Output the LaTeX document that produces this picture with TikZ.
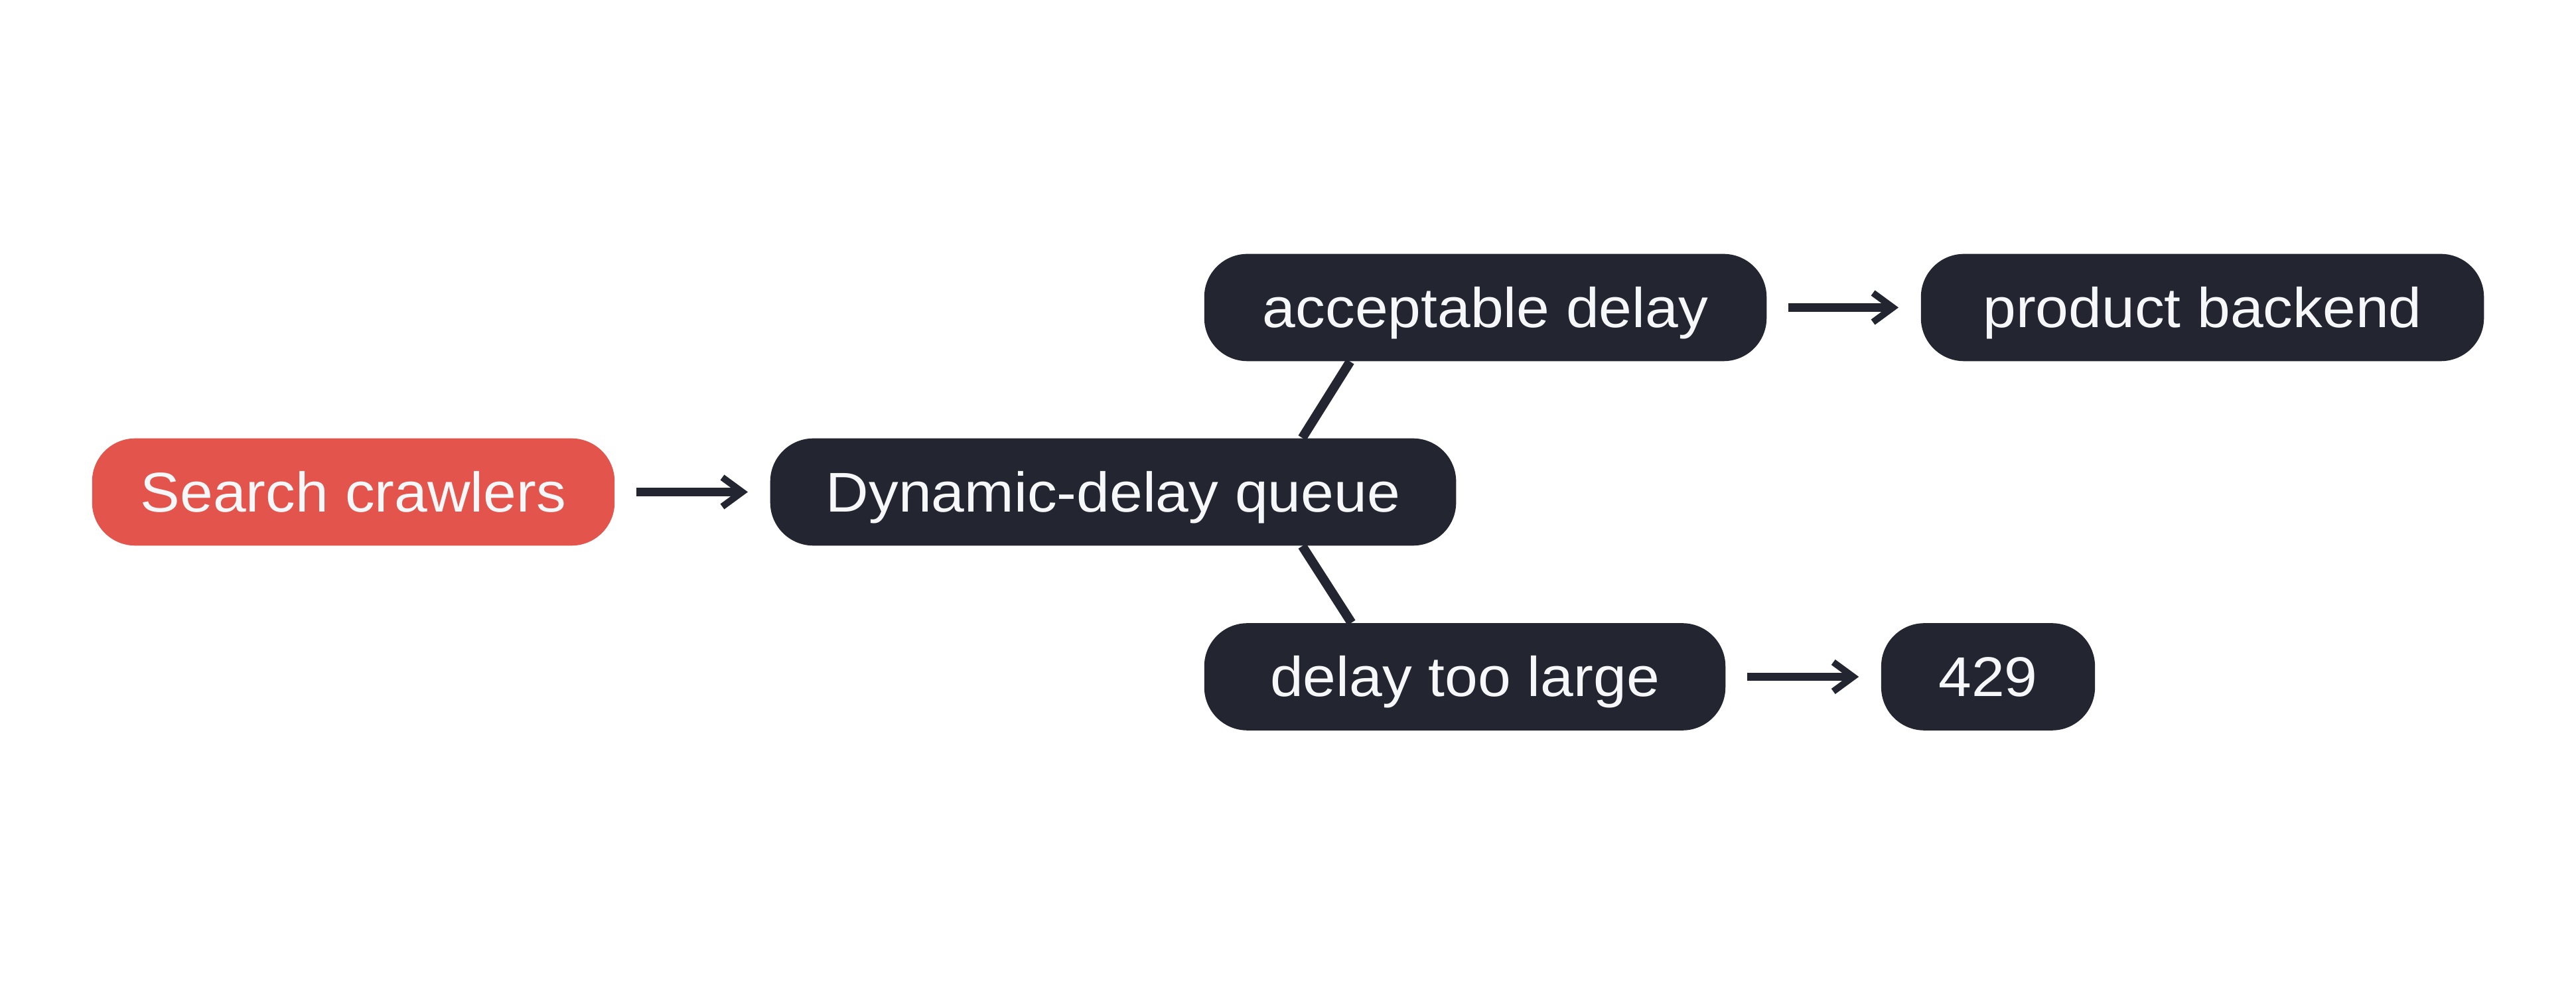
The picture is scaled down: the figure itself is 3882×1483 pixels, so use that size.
\documentclass[tikz,border=0pt]{standalone}
\usepackage{fontspec}
\setmainfont{Liberation Sans}[FakeStretch=1.06]
\usetikzlibrary{arrows.meta}
\definecolor{boxdark}{HTML}{232530}
\definecolor{boxred}{HTML}{E2544C}
\definecolor{txtc}{HTML}{F6F7F9}
\begin{document}
\begin{tikzpicture}[x=0.01cm,y=0.01cm,
  pill/.style={rounded corners=0.65cm, minimum height=1.615cm, inner sep=0pt, text=txtc,
    font=\fontsize{24}{28}\selectfont, text height=17pt, text depth=0pt},
  darkpill/.style={pill, fill=boxdark},
  redpill/.style={pill, fill=boxred},
  flow/.style={draw=boxdark, line width=0.125cm,
    -{Straight Barb[length=0.3cm,width=0.44cm,line width=0.1cm]},
    shorten <=0.32cm, shorten >=0.33cm},
  branch/.style={draw=boxdark, line width=0.14cm}]
\useasboundingbox (0,0) rectangle (3882,-1483);
\fill[white] (0,0) rectangle (3882,-1483);
\node[redpill, minimum width=7.87cm] (sc) at (532.5,-741.5) {Search crawlers};
\node[darkpill, minimum width=10.33cm] (dq) at (1677.5,-741.5) {Dynamic-delay queue};
\node[darkpill, minimum width=8.47cm] (ad) at (2238.5,-463.5) {acceptable delay};
\node[darkpill, minimum width=8.48cm] (pb) at (3319,-463.5) {product backend};
\node[darkpill, minimum width=7.85cm] (dl) at (2207.5,-1020) {delay too large};
\node[darkpill, minimum width=3.22cm] (n429) at (2996,-1020) {429};
\draw[branch] ([xshift=2.848cm]dq.north) -- ([xshift=-2.038cm]ad.south);
\draw[branch] ([xshift=2.848cm]dq.south) -- ([xshift=-1.708cm]dl.north);
\draw[flow] (sc) -- (dq);
\draw[flow] (ad) -- (pb);
\draw[flow] (dl) -- (n429);
\end{tikzpicture}
\end{document}
